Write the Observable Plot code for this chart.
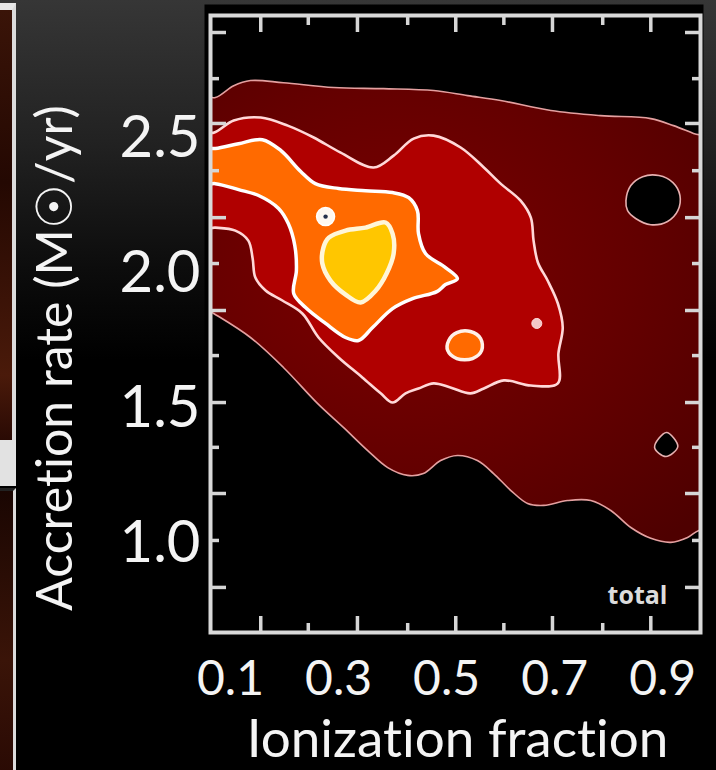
<!DOCTYPE html>
<html><head><meta charset="utf-8">
<script src="https://cdn.jsdelivr.net/npm/d3@7"></script>
<script src="https://cdn.jsdelivr.net/npm/@observablehq/plot@0.6"></script>
<style>
html,body{margin:0;padding:0;}
body{width:716px;height:770px;overflow:hidden;position:relative;
 background:linear-gradient(to bottom,#363636 0px,#222 140px,#0c0c0c 270px,#000 360px);}
#chart{position:absolute;left:0;top:0;}
#chart svg text{font-variant-ligatures:none;}
.strip{position:absolute;left:0;}
</style></head><body>
<div class="strip" style="top:3px;width:12px;height:430px;background:linear-gradient(#3a1408,#240802 40%,#4a1a0a 85%,#2a0a04);border-top:7px solid #e8e8e8;border-right:4px solid #dcdcdc"></div>
<div class="strip" style="top:440px;width:16px;height:46px;background:#e2e2e2"></div>
<div class="strip" style="top:488px;width:13px;height:282px;background:linear-gradient(#1a0602,#3a1408 60%,#2a0a04);border-top:3px solid #222;border-right:3px solid #dcdcdc"></div>
<div id="chart"></div>
<script>
// ---- axis labels ----
const xTickValues = [0.1, 0.3, 0.5, 0.7, 0.9];
const yTickValues = [1.0, 1.5, 2.0, 2.5];
const xTitle = "Ionization fraction";
const yTitle = "Accretion rate (M\u2609/yr)";
const panelLabel = "total";

// ---- inner frame tick marks (in axis units) ----
const frameTicksXLong = [0.156, 0.335, 0.517, 0.696, 0.878];
const frameTicksXShort = [0.244, 0.428, 0.606, 0.789];
const frameTicksYLong = [2.893, 2.556, 2.207, 1.863, 1.522, 1.185, 0.837];
const frameTicksYShort = [2.722, 2.381, 2.037, 1.696, 1.356, 1.011];

// ---- contour outlines [ionization fraction, accretion rate] ----
const outerContour = [
  [0.044,2.652],[0.072,2.652],[0.106,2.696],[0.137,2.715],[0.198,2.707],[0.291,2.689],
  [0.383,2.685],[0.476,2.678],[0.539,2.659],[0.600,2.641],[0.693,2.604],[0.785,2.585],
  [0.878,2.574],[0.920,2.548],[0.957,2.519],[1.007,2.481],[1.007,1.056],[0.967,1.048],
  [0.946,1.022],[0.915,1.004],[0.878,1.019],[0.841,1.059],[0.804,1.122],[0.767,1.159],
  [0.724,1.159],[0.680,1.141],[0.650,1.148],[0.619,1.196],[0.587,1.259],[0.557,1.307],
  [0.520,1.326],[0.489,1.307],[0.457,1.259],[0.428,1.252],[0.391,1.281],[0.354,1.344],
  [0.309,1.430],[0.261,1.519],[0.198,1.652],[0.137,1.763],[0.069,1.852],[0.044,1.881]
];
const outerHole = [
  [0.832,2.270],[0.841,2.326],[0.863,2.359],[0.893,2.363],[0.919,2.337],[0.932,2.289],
  [0.928,2.233],[0.909,2.193],[0.878,2.181],[0.850,2.204],[0.835,2.233]
];
const outerHoleSmall = [[0.907,1.411],[0.928,1.359],[0.906,1.322],[0.885,1.356]];
const redContour = [
  [0.044,2.522],[0.069,2.522],[0.106,2.567],[0.156,2.578],[0.206,2.548],[0.254,2.504],
  [0.304,2.448],[0.365,2.393],[0.402,2.437],[0.439,2.500],[0.476,2.511],[0.526,2.467],
  [0.569,2.393],[0.600,2.333],[0.637,2.270],[0.656,2.207],[0.661,2.122],[0.669,2.041],
  [0.687,1.974],[0.706,1.889],[0.715,1.800],[0.707,1.704],[0.706,1.593],[0.656,1.585],
  [0.606,1.604],[0.569,1.574],[0.544,1.556],[0.507,1.578],[0.476,1.593],[0.448,1.574],
  [0.424,1.556],[0.400,1.522],[0.378,1.556],[0.344,1.615],[0.300,1.689],[0.263,1.763],
  [0.233,1.852],[0.196,1.900],[0.165,1.937],[0.146,1.985],[0.141,2.056],[0.133,2.122],
  [0.109,2.159],[0.072,2.170],[0.044,2.170]
];
const orangeContour = [
  [0.044,2.463],[0.072,2.463],[0.115,2.481],[0.159,2.496],[0.193,2.456],[0.230,2.378],
  [0.257,2.333],[0.300,2.315],[0.350,2.307],[0.400,2.300],[0.430,2.281],[0.446,2.233],
  [0.448,2.148],[0.461,2.074],[0.498,2.022],[0.520,1.981],[0.498,1.959],[0.482,1.933],
  [0.437,1.907],[0.400,1.870],[0.363,1.800],[0.337,1.752],[0.313,1.763],[0.276,1.815],
  [0.239,1.874],[0.217,1.926],[0.222,2.011],[0.219,2.104],[0.207,2.185],[0.189,2.241],
  [0.152,2.289],[0.115,2.311],[0.072,2.333],[0.044,2.333]
];
const orangeIsland = [
  [0.504,1.752],[0.519,1.781],[0.544,1.785],[0.563,1.759],[0.565,1.715],[0.548,1.685],
  [0.519,1.685],[0.502,1.715]
];
const yellowContour = [
  [0.282,2.133],[0.313,2.159],[0.350,2.170],[0.387,2.189],[0.400,2.148],[0.402,2.074],
  [0.389,2.000],[0.369,1.937],[0.341,1.893],[0.313,1.922],[0.285,1.974],[0.270,2.037],
  [0.272,2.096]
];
const ringSpot = [[0.276, 2.211]];
const pinkSpot = [[0.667, 1.815]];

const contour = (pts, fill, stroke, sw) => Plot.line(pts, {
  x: d => d[0], y: d => d[1], fill, stroke, strokeWidth: sw,
  curve: "catmull-rom-closed", clip: "frame", strokeLinejoin: "round"
});

const gradientDefs = () => {
  const defs = d3.create("svg:defs");
  const g = defs.append("radialGradient").attr("id", "outerGlow")
    .attr("cx", 0.38).attr("cy", 0.42).attr("r", 0.75);
  g.append("stop").attr("offset", 0).attr("stop-color", "#7c0000");
  g.append("stop").attr("offset", 0.55).attr("stop-color", "#640000");
  g.append("stop").attr("offset", 1).attr("stop-color", "#4e0000");
  return defs.node();
};

const frameTickAxes = [];
for (const [anchor, values, size] of [["bottom", frameTicksXLong, -16], ["bottom", frameTicksXShort, -9],
                                       ["top", frameTicksXLong, -16], ["top", frameTicksXShort, -9]]) {
  frameTickAxes.push(Plot.axisX({anchor, ticks: values, tickSize: size, tickFormat: () => "",
    label: null, color: "#d6d6d6", strokeWidth: 3.5}));
}
for (const [anchor, values, size] of [["left", frameTicksYLong, -16], ["left", frameTicksYShort, -9],
                                       ["right", frameTicksYLong, -16], ["right", frameTicksYShort, -9]]) {
  frameTickAxes.push(Plot.axisY({anchor, ticks: values, tickSize: size, tickFormat: () => "",
    label: null, color: "#d6d6d6", strokeWidth: 3.5}));
}

const font = "Lato, 'Open Sans', sans-serif";

const chart = Plot.plot({
  width: 716, height: 770,
  marginLeft: 210, marginRight: 16, marginTop: 15, marginBottom: 138,
  x: {domain: [0.063, 0.970]},
  y: {domain: [0.670, 2.956]},
  style: {background: "transparent", color: "#f4f4f4", fontFamily: font, overflow: "visible"},
  marks: [
    gradientDefs,
    Plot.frame({fill: "black", insetLeft: -6, insetTop: -11, insetRight: -3, insetBottom: -18}),
    contour(outerContour, "url(#outerGlow)", "#e4a0a0", 1.6),
    contour(outerHole, "black", "#e6b0b0", 1.6),
    contour(outerHoleSmall, "black", "#e6b0b0", 1.6),
    contour(redContour, "#b00000", "#ffd8d8", 2.6),
    contour(orangeContour, "#ff6a00", "#ffffff", 3.5),
    contour(orangeIsland, "#ff6a00", "#fff0e8", 3.5),
    contour(yellowContour, "#ffc600", "#fff6d8", 4.5),
    Plot.dot(ringSpot, {x: d => d[0], y: d => d[1], r: 9, fill: "#fff8f0", stroke: "#ffffff", strokeWidth: 1.5}),
    Plot.dot(ringSpot, {x: d => d[0], y: d => d[1], r: 2.2, fill: "#26304a"}),
    Plot.dot(pinkSpot, {x: d => d[0], y: d => d[1], r: 5, fill: "#f2c8c8", stroke: "#ffdede", strokeWidth: 1}),
    Plot.frame({stroke: "#d9d9d9", strokeWidth: 4}),
    ...frameTickAxes,
    Plot.text([panelLabel], {frameAnchor: "bottom-right", dx: -33, dy: -37, textAnchor: "end", lineAnchor: "middle",
      fontSize: 25, fontWeight: "bold", fill: "#dcdcdc", fontFamily: "'Open Sans', sans-serif"}),
    Plot.axisX({anchor: "bottom", ticks: xTickValues, tickFormat: d3.format(".1f"), tickSize: 0,
      tickPadding: 28, fontSize: 48, label: null, color: "#f4f4f4"}),
    Plot.axisY({anchor: "left", ticks: yTickValues, tickFormat: d3.format(".1f"), tickSize: 0,
      tickPadding: 10, fontSize: 58, label: null, color: "#f4f4f4"}),
    Plot.text([xTitle], {frameAnchor: "bottom", dx: 2, dy: 108, textAnchor: "middle", lineAnchor: "middle",
      fontSize: 53, fill: "#f4f4f4"}),
    Plot.text([yTitle], {frameAnchor: "left", dx: -155, dy: 34, rotate: -90, textAnchor: "middle", lineAnchor: "middle",
      fontSize: 50, fill: "#f4f4f4"})
  ]
});
document.getElementById("chart").appendChild(chart);
</script>
</body></html>
